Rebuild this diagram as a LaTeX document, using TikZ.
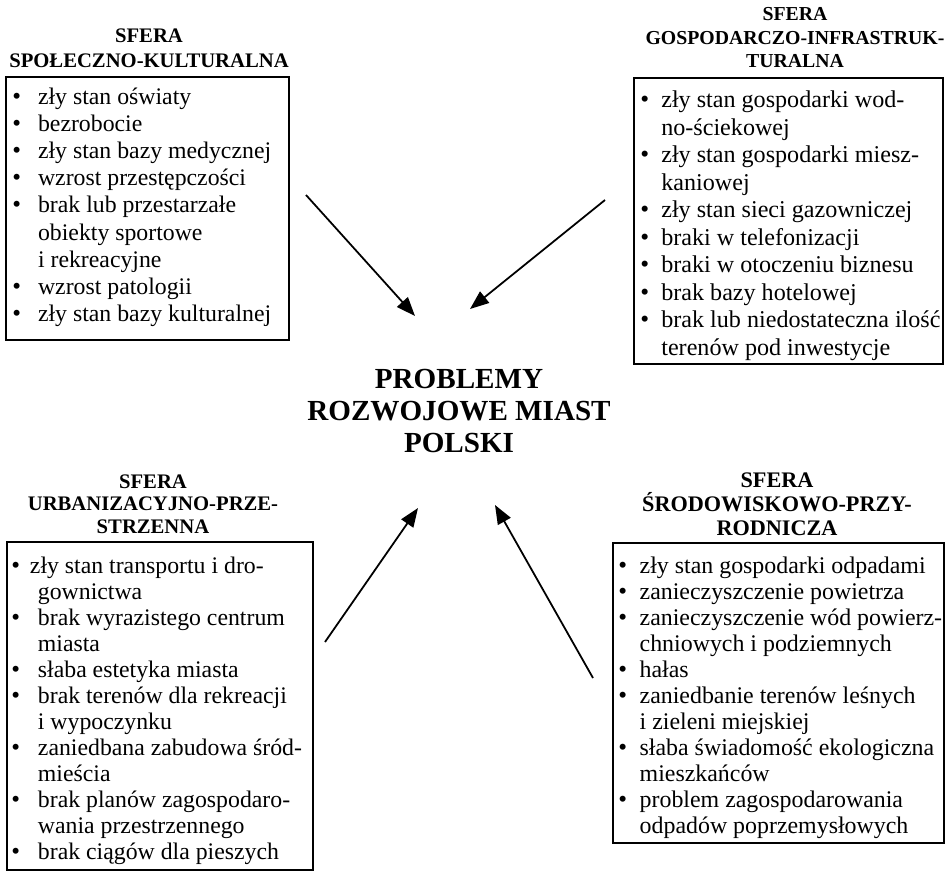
\documentclass[tikz,border=0pt]{standalone}
\usepackage{fontspec}
\setmainfont{Liberation Serif}
\usepackage{graphicx}
\usetikzlibrary{arrows.meta}
\newcommand{\blt}{\scalebox{1.05}{\textbullet}}

\begin{document}
\begin{tikzpicture}[x=0.45pt,y=-0.45pt,
	sferahead/.style={align=center,anchor=base},
	sferabox/.style={draw,line width=0.8pt,anchor=north west},
	sferalist/.style={anchor=base west},
	wplyw/.style={line width=0.8pt,-{Triangle[length=8.5pt,width=6.5pt]}}]
	\tikzstyle{every node}+=[inner sep=0pt]
	\useasboundingbox (0,0) rectangle (948,871);
	\node [sferahead,font=\bfseries\fontsize{13.1}{14.4}\selectfont] (problemy) at (459,452) {PROBLEMY\\ROZWOJOWE MIAST\\POLSKI};
	\node [sferahead,font=\bfseries\fontsize{9.3}{11.25}\selectfont] (skhead) at (149,68) {SFERA\\SPOŁECZNO-KULTURALNA};
	\node [sferabox,minimum width={283*0.45pt},minimum height={263*0.45pt}] (skbox) at (5,76) {};
	\node [sferalist,font=\fontsize{10.7}{12.2}\selectfont] (sklist) at (12,104.5) {\begin{tabular}[t]{@{}l@{\hspace{7.6pt}}l@{}}
		\blt & zły stan oświaty\\
		\blt & bezrobocie\\
		\blt & zły stan bazy medycznej\\
		\blt & wzrost przestępczości\\
		\blt & brak lub przestarzałe\\
		& obiekty sportowe\\
		& i rekreacyjne\\
		\blt & wzrost patologii\\
		\blt & zły stan bazy kulturalnej
	\end{tabular}};
	\node [sferahead,font=\bfseries\fontsize{8.9}{10.6}\selectfont] (gihead) at (795,68) {SFERA\\GOSPODARCZO-INFRASTRUK-\\TURALNA};
	\node [sferabox,minimum width={309*0.45pt},minimum height={286*0.45pt}] (gibox) at (633,77) {};
	\node [sferalist,font=\fontsize{10.85}{12.4}\selectfont] (gilist) at (640,107.5) {\begin{tabular}[t]{@{}l@{\hspace{5.4pt}}l@{}}
		\blt & zły stan gospodarki wod-\\
		& no-ściekowej\\
		\blt & zły stan gospodarki miesz-\\
		& kaniowej\\
		\blt & zły stan sieci gazowniczej\\
		\blt & braki w telefonizacji\\
		\blt & braki w otoczeniu biznesu\\
		\blt & brak bazy hotelowej\\
		\blt & brak lub niedostateczna ilość\\
		& terenów pod inwestycje
	\end{tabular}};
	\node [sferahead,font=\bfseries\fontsize{9.3}{10}\selectfont] (uphead) at (153,533) {SFERA\\URBANIZACYJNO-PRZE-\\STRZENNA};
	\node [sferabox,minimum width={306*0.45pt},minimum height={328*0.45pt}] (upbox) at (6,541) {};
	\node [sferalist,font=\fontsize{10.7}{11.7}\selectfont] (uplist) at (11,573.5) {\begin{tabular}[t]{@{}l@{\hspace{8pt}}l@{}}
		\multicolumn{2}{@{}l@{}}{\blt\hspace{4.4pt}zły stan transportu i dro-}\\
		& gownictwa\\
		\blt & brak wyrazistego centrum\\
		& miasta\\
		\blt & słaba estetyka miasta\\
		\blt & brak terenów dla rekreacji\\
		& i wypoczynku\\
		\blt & zaniedbana zabudowa śród-\\
		& mieścia\\
		\blt & brak planów zagospodaro-\\
		& wania przestrzennego\\
		\blt & brak ciągów dla pieszych
	\end{tabular}};
	\node [sferahead,font=\bfseries\fontsize{10}{10.8}\selectfont] (sphead) at (777,535) {SFERA\\ŚRODOWISKOWO-PRZY-\\RODNICZA};
	\node [sferabox,minimum width={331*0.45pt},minimum height={300*0.45pt}] (spbox) at (612,542) {};
	\node [sferalist,font=\fontsize{10.75}{11.7}\selectfont] (splist) at (618,573) {\begin{tabular}[t]{@{}l@{\hspace{5.6pt}}l@{}}
		\blt & zły stan gospodarki odpadami\\
		\blt & zanieczyszczenie powietrza\\
		\blt & zanieczyszczenie wód powierz-\\
		& chniowych i podziemnych\\
		\blt & hałas\\
		\blt & zaniedbanie terenów leśnych\\
		& i zieleni miejskiej\\
		\blt & słaba świadomość ekologiczna\\
		& mieszkańców\\
		\blt & problem zagospodarowania\\
		& odpadów poprzemysłowych
	\end{tabular}};
	\coordinate (skfrom) at (306,195);
	\coordinate (skto) at (415,316);
	\coordinate (gifrom) at (605,200);
	\coordinate (gito) at (470,309);
	\coordinate (upfrom) at (325,642);
	\coordinate (upto) at (418,508);
	\coordinate (spfrom) at (593,678);
	\coordinate (spto) at (495,505);
	\draw [wplyw] (skfrom) -- (skto);
	\draw [wplyw] (gifrom) -- (gito);
	\draw [wplyw] (upfrom) -- (upto);
	\draw [wplyw] (spfrom) -- (spto);
\end{tikzpicture}
\end{document}
